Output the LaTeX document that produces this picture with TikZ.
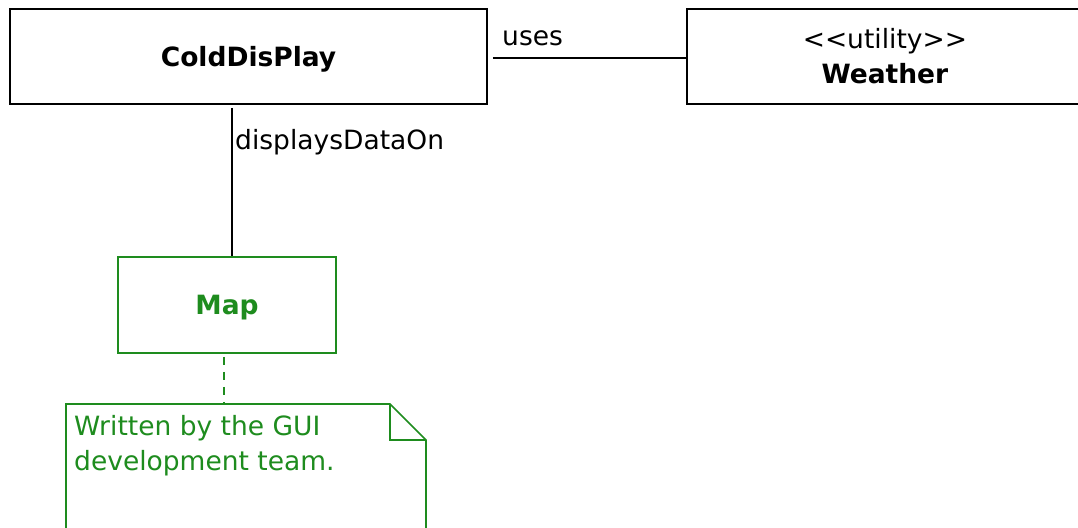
\documentclass[tikz,border=0pt]{standalone}
\usepackage{fontspec}
\setmainfont{DejaVu Sans}
\definecolor{notegreen}{RGB}{30,140,30}
\tikzset{
  classbox/.style={draw, line width=1.8pt, minimum width=477pt, minimum height=95pt, align=center, font=\fontsize{26.5}{35}\selectfont},
  assoc/.style={line width=1.8pt},
  lbl/.style={font=\fontsize{26.5}{30}\selectfont, inner sep=0pt}
}
\begin{document}
\begin{tikzpicture}[x=1pt, y=-1pt]
    \clip (0, 0) rectangle (1078, 527);
    \fill[white] (0, 0) rectangle (1078, 527);

    % Classes
    \node[classbox, text depth=0pt] (cold) at (248.5, 56.5) {\textbf{ColdDisPlay}};
    \node[classbox, minimum width=396pt, anchor=west] (weather) at (686, 56.5) {{<}{<}utility{>}{>}\\\textbf{Weather}};
    \node[classbox, text depth=0pt, draw=notegreen, text=notegreen, minimum width=218pt, minimum height=96pt] (map) at (227, 305) {\textbf{Map}};

    % Associations
    \draw[assoc] ([xshift=5pt, yshift=-1.5pt]cold.east) -- ([yshift=-1.5pt]weather.west);
    \node[lbl, anchor=west] (uses) at (502, 38) {uses};
    \draw[assoc] ([xshift=-16.5pt, yshift=-3pt]cold.south) -- ([xshift=5pt]map.north);
    \node[lbl, anchor=west] (shows) at (235, 142) {displaysDataOn};

    % Note with folded corner
    \node[lbl, text=notegreen, align=left, anchor=north west, font=\fontsize{26.5}{35}\selectfont] (note) at (74, 415) {Written by the GUI\\development team.};
    \draw[notegreen, line width=1.6pt] (66, 545) -- (66, 404) -- (390, 404) -- (426, 440) -- (426, 545);
    \draw[notegreen, line width=1.6pt] (390, 404) -- (390, 440) -- (426, 440);
    \coordinate (notetop) at (224, 404);
    \draw[notegreen, line width=1.6pt, dash pattern=on 8pt off 7pt] ([xshift=-3pt, yshift=-3pt]map.south) -- (notetop);

\end{tikzpicture}
\end{document}
